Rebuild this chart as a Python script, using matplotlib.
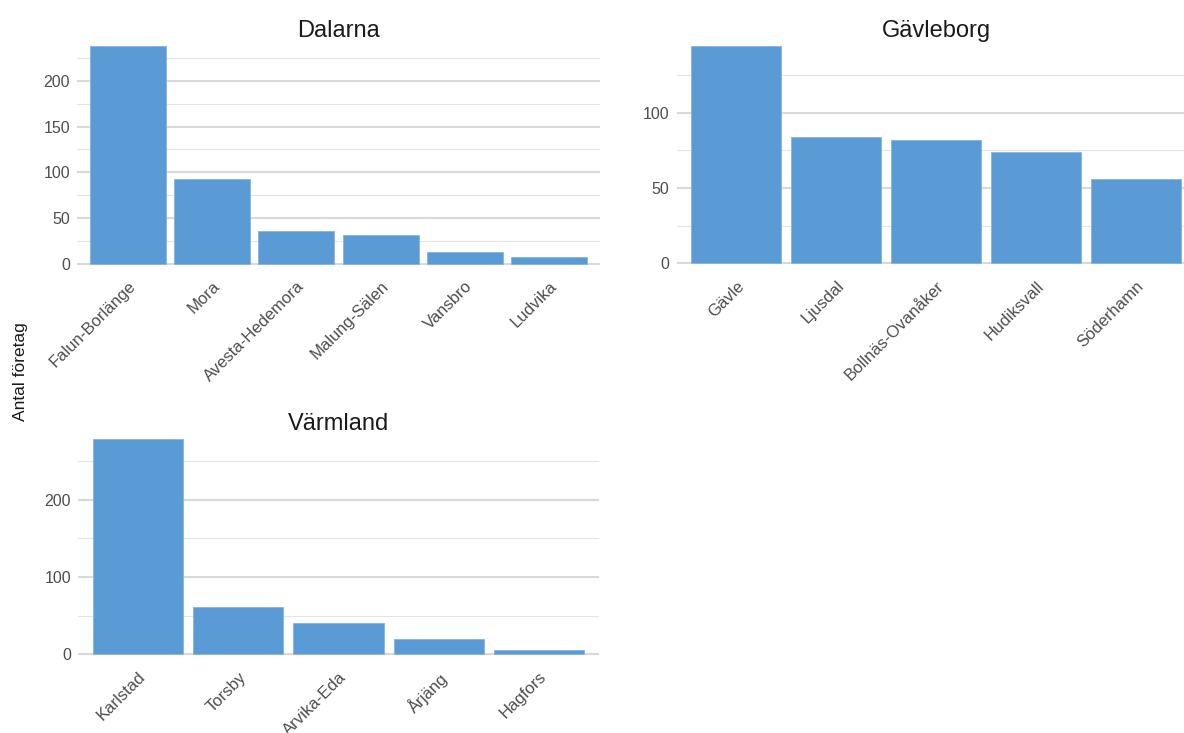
import matplotlib
matplotlib.use("Agg")
import matplotlib.pyplot as plt
from matplotlib.ticker import FixedLocator

plt.rcParams["font.family"] = ["Liberation Sans", "DejaVu Sans"]

# --- data ---
dalarna_names = ["Falun-Borlänge", "Mora", "Avesta-Hedemora", "Malung-Sälen", "Vansbro", "Ludvika"]
dalarna_counts = [238, 93, 36, 31, 13, 7]

gavleborg_names = ["Gävle", "Ljusdal", "Bollnäs-Ovanåker", "Hudiksvall", "Söderhamn"]
gavleborg_counts = [144, 84, 82, 74, 56]

varmland_names = ["Karlstad", "Torsby", "Arvika-Eda", "Årjäng", "Hagfors"]
varmland_counts = [279, 61, 41, 20, 6]

BAR = "#5B9BD5"
TXT = "#4D4D4D"
W, H = 1184, 733


def px_axes(fig, x0, x1, y0, y1):
    # axes from pixel box (top-left origin)
    return fig.add_axes([x0 / W, 1 - y1 / H, (x1 - x0) / W, (y1 - y0) / H])


def panel(ax, title, names, counts, step):
    n = len(names)
    x = list(range(n))
    ax.bar(x, counts, width=0.9, color=BAR, edgecolor="#86B4E2", linewidth=0.6, zorder=3)
    top = max(counts)
    ax.set_ylim(-0.05 * top, 1.05 * top)
    ax.set_xlim(-0.6, n - 1 + 0.6)
    # gridlines only up to the tallest bar, like the reference
    major = [v for v in range(0, top + 1, step)]
    minor = [v + step / 2 for v in major if v + step / 2 <= top]
    ax.yaxis.set_major_locator(FixedLocator(major))
    ax.yaxis.set_minor_locator(FixedLocator(minor))
    ax.set_xticks(x)
    ax.set_xticklabels(names, rotation=45, ha="right", rotation_mode="anchor")
    ax.grid(axis="y", which="major", color="#D9D9D9", linewidth=1.5, zorder=0)
    ax.grid(axis="y", which="minor", color="#E4E4E4", linewidth=0.8, zorder=0)
    ax.grid(axis="x", visible=False)
    ax.set_axisbelow(True)
    for s in ax.spines.values():
        s.set_visible(False)
    ax.tick_params(axis="both", which="both", length=0, labelcolor=TXT)
    ax.tick_params(axis="y", pad=5, labelsize=11.5)
    ax.tick_params(axis="x", pad=3, labelsize=12)
    # fixed y so matplotlib doesn't auto-lift the title
    ax.set_title(title, fontsize=17, color="#1A1A1A", y=1.0, pad=-1.2)


fig = plt.figure(figsize=(W / 100, H / 100), dpi=100)

ax1 = px_axes(fig, 77, 600, 35.5, 274.4)
panel(ax1, "Dalarna", dalarna_names, dalarna_counts, 50)

ax2 = px_axes(fig, 676.5, 1196, 35.5, 274.1)
panel(ax2, "Gävleborg", gavleborg_names, gavleborg_counts, 50)

ax3 = px_axes(fig, 78, 599, 428, 665)
panel(ax3, "Värmland", varmland_names, varmland_counts, 100)

fig.text(21 / W, 1 - 372 / H, "Antal företag", rotation=90, ha="center", va="center",
         fontsize=12.5, color="#1A1A1A")

fig.savefig("out.png", dpi=100)
